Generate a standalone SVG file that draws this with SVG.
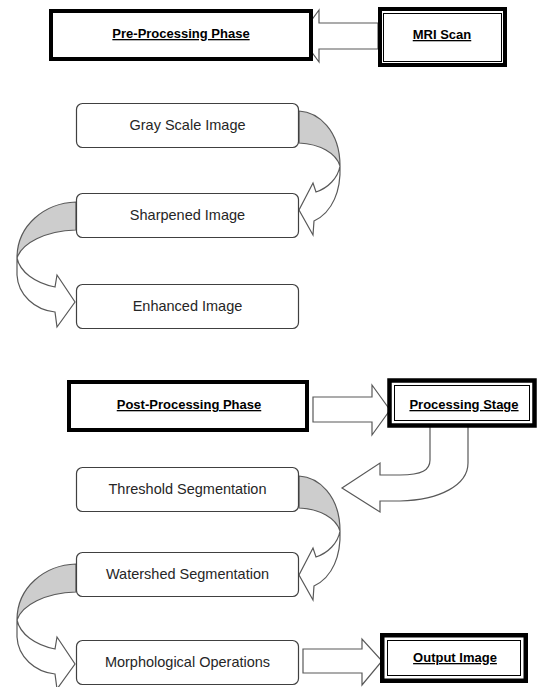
<svg xmlns="http://www.w3.org/2000/svg" width="537" height="687" viewBox="0 0 537 687">
<style>
.thick{fill:#fff;stroke:#000;stroke-width:4}
.dbl{fill:#fff;stroke:#000;stroke-width:4.5}
.thin{fill:none;stroke:#000;stroke-width:1}
.rbox{fill:#fff;stroke:#404040;stroke-width:1.2}
.arrow{fill:#fff;stroke:#595959;stroke-width:1.2;stroke-linejoin:miter}
.back{fill:#cdcdcd;stroke:#595959;stroke-width:1.2}
.t{font-family:"Liberation Sans",Arial,sans-serif;font-size:14.5px;fill:#262626;text-anchor:middle}
.tb{font-family:"Liberation Sans",Arial,sans-serif;font-size:13px;font-weight:bold;fill:#000;text-anchor:middle;text-decoration:underline}
</style>
<rect width="537" height="687" fill="#fff"/>
<g id="connectors">
  <path class="arrow" d="M378,23 L319,23 L319,10 L300,36 L319,62 L319,49 L378,49 Z"/>
  <g id="curve1">
    <path class="back" d="M299,111 C318,112 340,130 340,166 C336,153 320,144 299,143 Z"/>
    <path class="arrow" d="M340,166 C341,190 333,212 314,221 L313,235 L299,210 L313,183 L316,192 C328,188 338,178 340,166 Z"/>
  </g>
  <g id="curve2">
    <path class="back" d="M76,202 C45,203 17,225 17,258 C22,243 45,231 76,230 Z"/>
    <path class="arrow" d="M17,258 L17,275 C18,295 35,310 55,312 L57,327 L75,302 L57,275 L55,287 C35,283 20,272 17,258 Z"/>
  </g>
  <path class="arrow" d="M313,397 L372,397 L372,385 L390,410 L372,435 L372,422 L313,422 Z"/>
  <path class="arrow" d="M430,426 L430,460 C430,470 422,475 400,475 L380,475 L380,463 L342,488 L380,512 L380,501 L400,501 C440,500 468,485 468,463 L468,426 Z"/>
  <g id="curve3" transform="translate(0,365)">
    <path class="back" d="M299,111 C318,112 340,130 340,166 C336,153 320,144 299,143 Z"/>
    <path class="arrow" d="M340,166 C341,190 333,212 314,221 L313,235 L299,210 L313,183 L316,192 C328,188 338,178 340,166 Z"/>
  </g>
  <g id="curve4" transform="translate(0,362)">
    <path class="back" d="M76,202 C45,203 17,225 17,258 C22,243 45,231 76,230 Z"/>
    <path class="arrow" d="M17,258 L17,275 C18,295 35,310 55,312 L57,327 L75,302 L57,275 L55,287 C35,283 20,272 17,258 Z"/>
  </g>
  <path class="arrow" d="M303,649 L362,649 L362,639 L382,661 L362,685 L362,673 L303,673 Z"/>
</g>
<g id="pre">
  <rect class="thick" x="51" y="11" width="260" height="48"/>
  <text class="tb" x="181" y="38">Pre-Processing Phase</text>
</g>
<g id="mri">
  <rect class="thick" x="380" y="9" width="125" height="56"/>
  <rect class="thin" x="383.5" y="13.5" width="118" height="48"/>
  <text class="tb" x="442" y="39">MRI Scan</text>
</g>
<g id="gray">
  <rect class="rbox" x="76.5" y="103.5" width="222" height="44" rx="6"/>
  <text class="t" x="187.5" y="130">Gray Scale Image</text>
</g>
<g id="sharpened">
  <rect class="rbox" x="76.5" y="193.5" width="222" height="44" rx="6"/>
  <text class="t" x="187.5" y="220">Sharpened Image</text>
</g>
<g id="enhanced">
  <rect class="rbox" x="76.5" y="284.5" width="222" height="44" rx="6"/>
  <text class="t" x="187.5" y="311">Enhanced Image</text>
</g>
<g id="post">
  <rect class="thick" x="69" y="382" width="238" height="48"/>
  <text class="tb" x="189" y="409">Post-Processing Phase</text>
</g>
<g id="processing">
  <rect class="dbl" x="389.5" y="380.5" width="145" height="45"/>
  <rect class="thin" x="394.5" y="385.5" width="135" height="35"/>
  <text class="tb" x="464" y="409">Processing Stage</text>
</g>
<g id="threshold">
  <rect class="rbox" x="76.5" y="467.5" width="222" height="44" rx="6"/>
  <text class="t" x="187.5" y="494">Threshold Segmentation</text>
</g>
<g id="watershed">
  <rect class="rbox" x="76.5" y="552.5" width="222" height="44" rx="6"/>
  <text class="t" x="187.5" y="579">Watershed Segmentation</text>
</g>
<g id="morph">
  <rect class="rbox" x="76.5" y="640.5" width="222" height="44" rx="6"/>
  <text class="t" x="187.5" y="667">Morphological Operations</text>
</g>
<g id="output">
  <rect class="dbl" x="382.25" y="635.25" width="143.5" height="45.5"/>
  <rect class="thin" x="387.5" y="640.5" width="133" height="35"/>
  <text class="tb" x="455" y="662">Output Image</text>
</g>
</svg>
